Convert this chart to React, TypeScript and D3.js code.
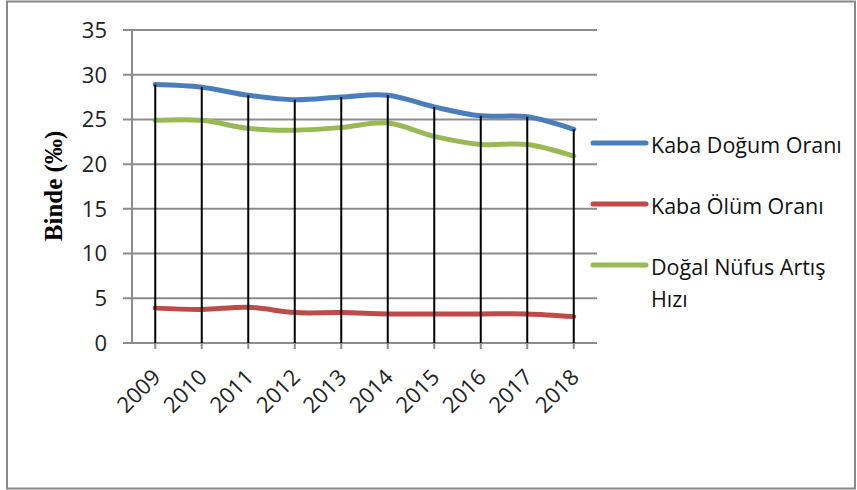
import React from "react";
import * as d3 from "d3";

const years = ["2009","2010","2011","2012","2013","2014","2015","2016","2017","2018"];
const kabaDogum = [28.9, 28.6, 27.7, 27.2, 27.5, 27.7, 26.4, 25.4, 25.3, 23.9];
const kabaOlum = [3.9, 3.75, 4.0, 3.4, 3.4, 3.25, 3.25, 3.25, 3.25, 2.95];
const dogalArtis = [24.9, 24.9, 24.0, 23.8, 24.1, 24.6, 23.1, 22.2, 22.2, 20.9];
const yTicks = [0, 5, 10, 15, 20, 25, 30, 35];

const seriesList = [
  { name: ["Kaba Doğum Oranı"], values: kabaDogum, color: "#4a7ebb" },
  { name: ["Kaba Ölüm Oranı"], values: kabaOlum, color: "#be4b48" },
  { name: ["Doğal Nüfus Artış", "Hızı"], values: dogalArtis, color: "#98b954" },
];

export default function App() {
  const W = 857, H = 490;
  const left = 132, right = 597, top = 30, bottom = 343;
  const x = d3.scaleBand<string>().domain(years).range([left, right]);
  const cx = (i: number) => (x(years[i]) as number) + x.bandwidth() / 2;
  const y = d3.scaleLinear().domain([0, 35]).range([bottom, top]);
  const line = d3.line<number>().x((_, i) => cx(i)).y((d) => y(d)).curve(d3.curveCatmullRom.alpha(0.5));
  const font = "'Open Sans', sans-serif";
  const legendY = [143, 204, 265];

  return (
    <svg width={W} height={H} style={{ position: "absolute", left: 0, top: 0 }}>
      <rect x={0} y={0} width={W} height={H} fill="#fff" />
      <rect x={7} y={1.5} width={W - 9} height={H - 3} fill="none" stroke="#888" strokeWidth={2} />
      {yTicks.map((t) => (
        <g key={t}>
          <line x1={left - 9} x2={right} y1={y(t)} y2={y(t)} stroke="#8c8c8c" strokeWidth={2} />
          <text x={107} y={y(t)} dy="0.36em" textAnchor="end" fontFamily={font} fontSize={22} fill="#222">{t}</text>
        </g>
      ))}
      <line x1={left} x2={left} y1={top} y2={bottom} stroke="#8c8c8c" strokeWidth={2} />
      {years.map((yr, i) => (
        <g key={yr}>
          <line x1={cx(i)} x2={cx(i)} y1={bottom} y2={bottom + 6} stroke="#8c8c8c" strokeWidth={2} />
          <text transform={`translate(${cx(i) + 1},${bottom + 30}) rotate(-45)`} textAnchor="end" dy="0.36em" fontFamily={font} fontSize={22} fill="#222">{yr}</text>
        </g>
      ))}
      {seriesList.map((s) => (
        <path key={s.name[0]} d={line(s.values) || ""} fill="none" stroke={s.color} strokeWidth={5} strokeLinecap="round" />
      ))}
      {years.map((yr, i) => (
        <line key={"d" + yr} x1={cx(i)} x2={cx(i)} y1={y(Math.max(kabaDogum[i], kabaOlum[i], dogalArtis[i]))} y2={bottom} stroke="#000" strokeWidth={2} />
      ))}
      <text transform={`translate(62,186) rotate(-90)`} textAnchor="middle" fontFamily="'Liberation Serif', 'Times New Roman', serif" fontWeight="bold" fontSize={25} fill="#000">Binde (‰)</text>
      {seriesList.map((s, k) => (
        <g key={"l" + k}>
          <line x1={593} x2={646} y1={legendY[k]} y2={legendY[k]} stroke={s.color} strokeWidth={5} strokeLinecap="round" />
          {s.name.map((n, j) => (
            <text key={n} x={651} y={legendY[k] + 2 + j * 32} dy="0.36em" fontFamily={font} fontSize={21.5} fill="#111">{n}</text>
          ))}
        </g>
      ))}
    </svg>
  );
}
